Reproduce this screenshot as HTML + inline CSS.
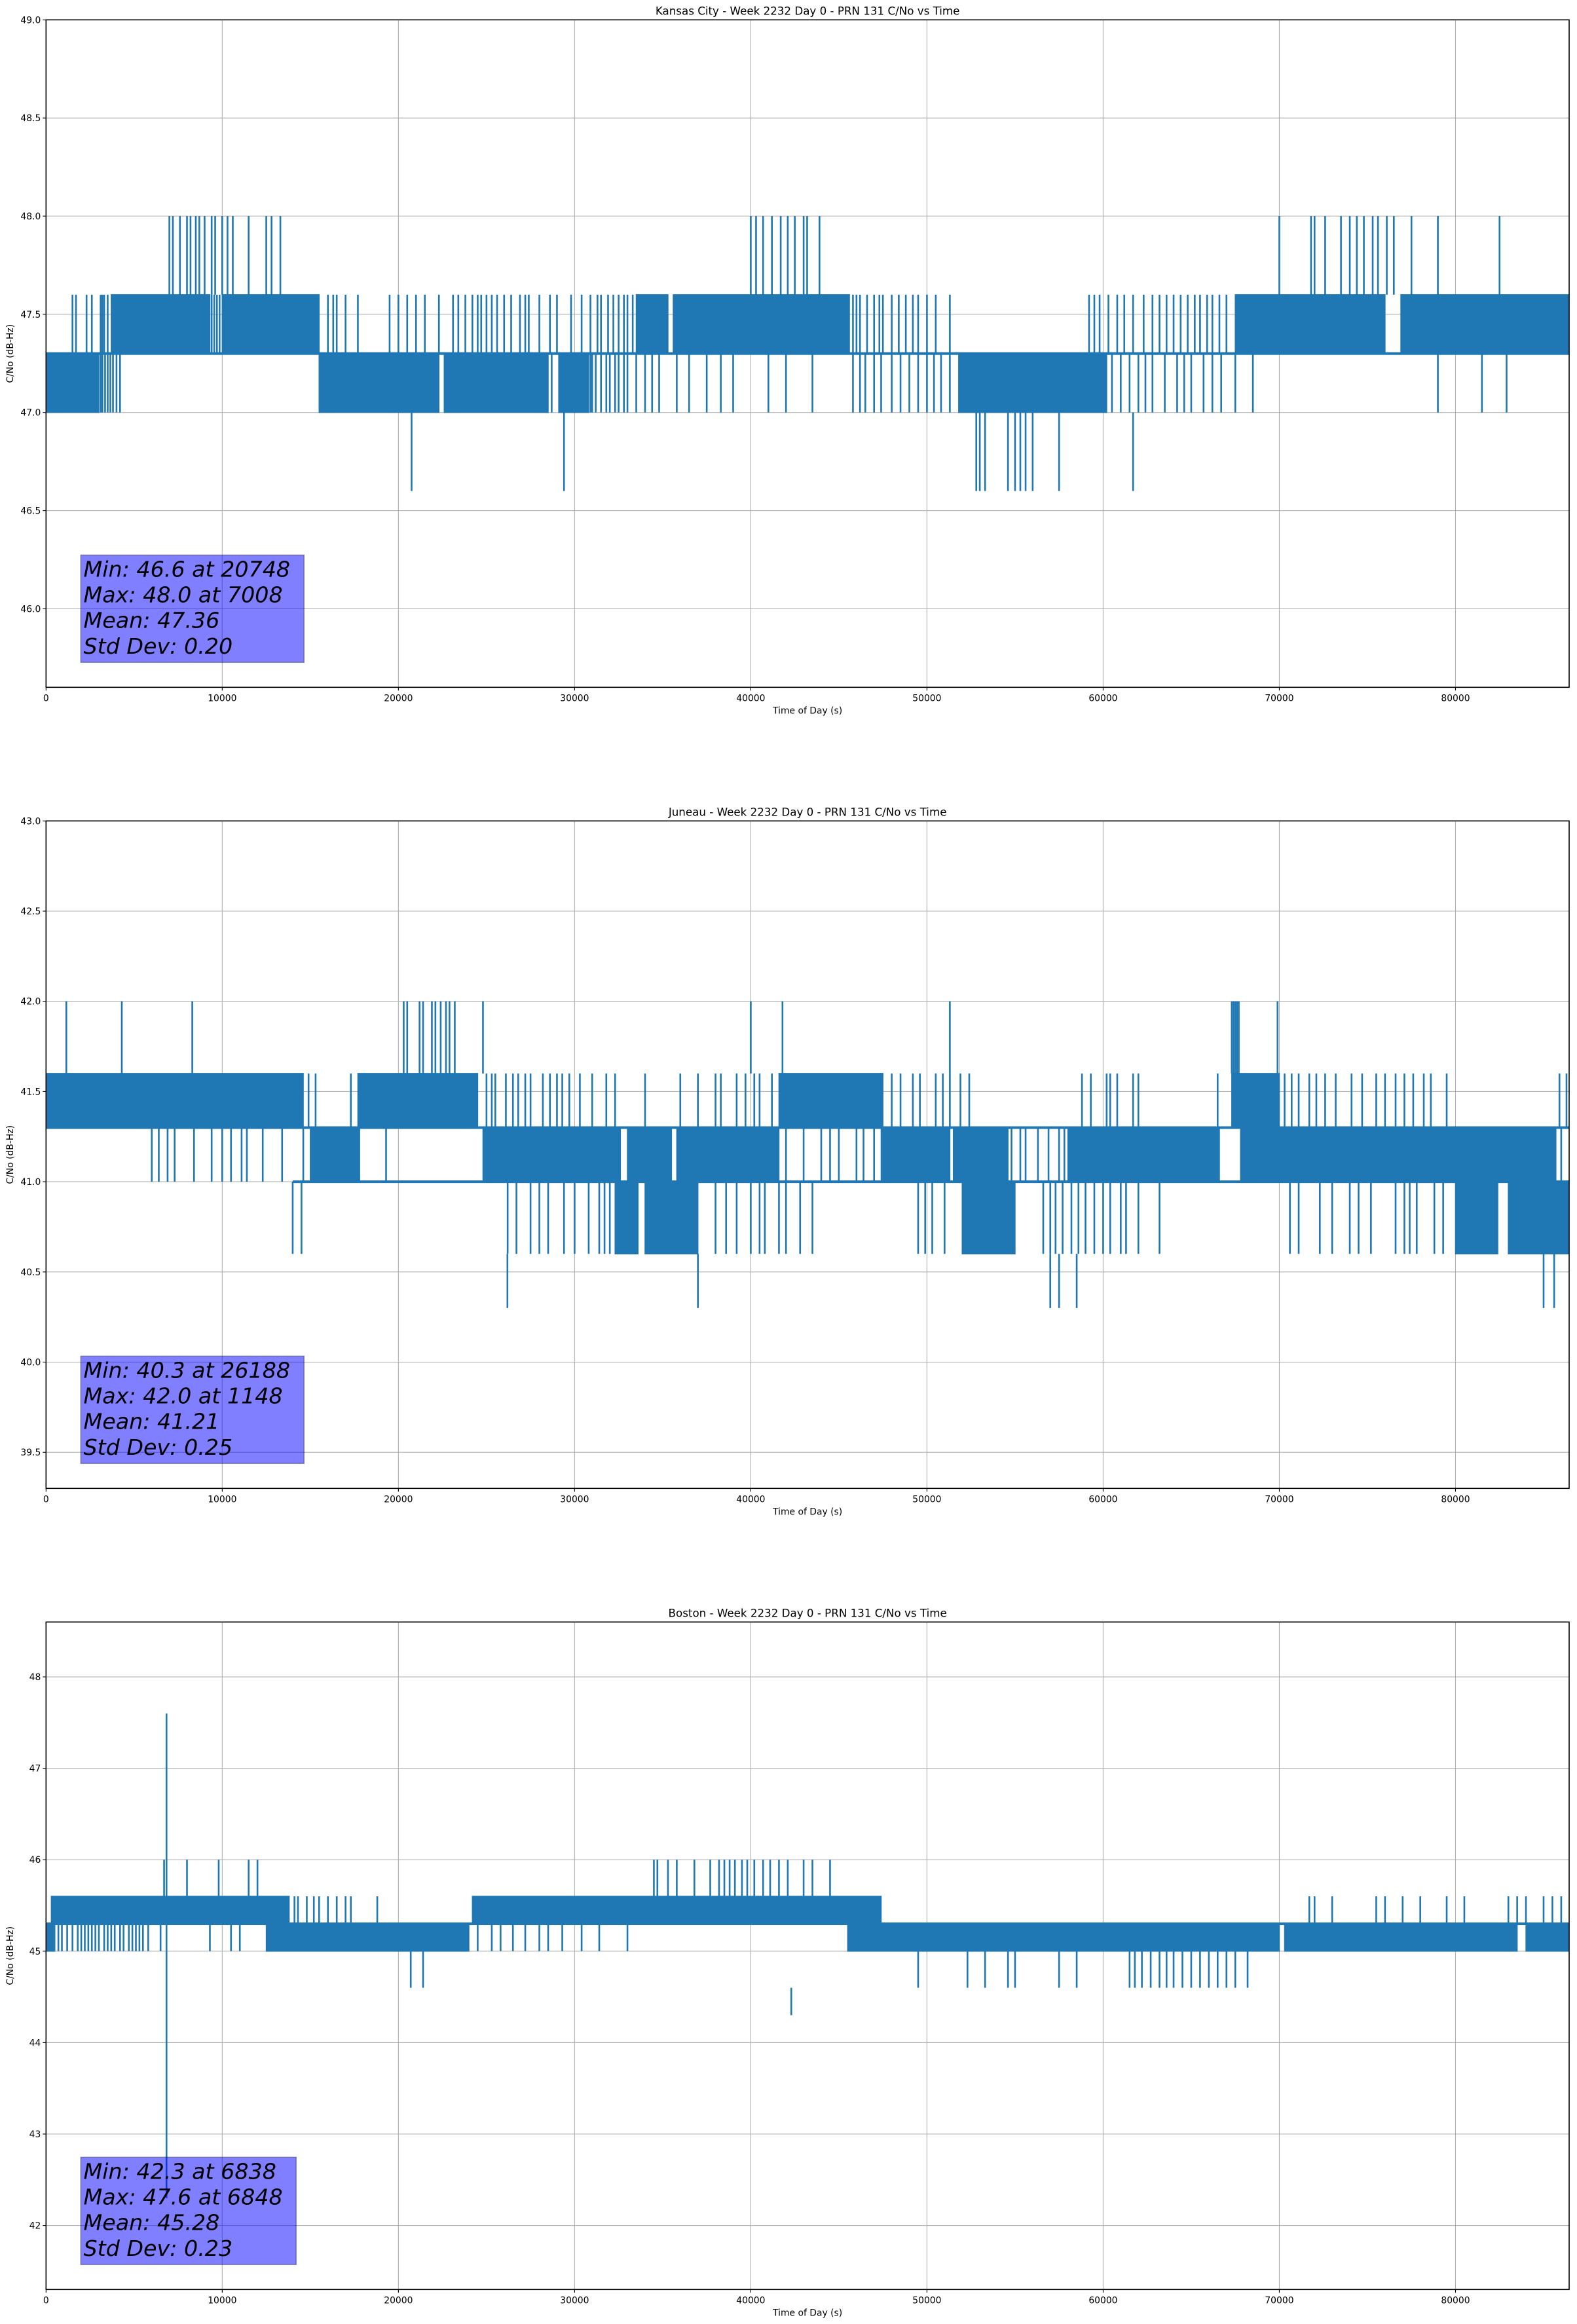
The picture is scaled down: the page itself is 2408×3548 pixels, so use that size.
<!DOCTYPE html>
<html><head><meta charset="utf-8"><title>PRN 131 C/No vs Time</title>
<style>
html,body{margin:0;padding:0;background:#fff;}
svg{display:block;font-family:"DejaVu Sans","Liberation Sans",sans-serif;}
</style></head>
<body>
<svg id="fig" width="2408" height="3548" viewBox="0 0 2408 3548" xmlns="http://www.w3.org/2000/svg">
<rect x="0" y="0" width="2408" height="3548" fill="#fff"/>
</svg>
<script>
// ---------- Shared axis data ----------
const xTicks = [0,10000,20000,30000,40000,50000,60000,70000,80000];
const xMax = 86450;

// ---------- Chart 1: Kansas City ----------
const kcTitle = "Kansas City - Week 2232 Day 0 - PRN 131 C/No vs Time";
const kcYRange = [45.6, 49.0];
const kcYTicks = [46.0,46.5,47.0,47.5,48.0,48.5,49.0];
const kcBandStart = [0,3700,10000,15500,22600,29100,33500,35600,51800,67500,76900];
const kcBandEnd   = [3000,9300,15500,22300,28500,30800,35300,45600,60200,76000,86450];
const kcBandLo    = [47.0,47.3,47.3,47.0,47.0,47.0,47.3,47.3,47.0,47.3,47.3];
const kcBandHi    = [47.3,47.6,47.6,47.3,47.3,47.3,47.6,47.6,47.3,47.6,47.6];
const kcLinkLevel = [47.3];
const kcLinkStart = [0];
const kcLinkEnd = [86450];
const kcSpikeHighX = [7000,7200,7600,8000,8200,8500,8700,9000,9400,9600,10000,10300,10600,11500,12500,12800,13300,40000,40300,40700,41200,41700,42100,42500,43000,43200,43900,70000,71800,72000,72600,73500,74000,74400,74800,75300,75600,76100,76500,77500,79000,82500];
const kcSpikeHighLo = 47.6, kcSpikeHighHi = 48.0;
const kcUpperLinesX = [1500,1700,2300,2600,3100,3200,3300,3500,9400,9550,9700,9850,16000,16300,16500,17000,17700,19500,20000,20500,21000,21500,22300,23100,23400,23800,24200,24500,24700,25000,25300,25600,26000,26400,26900,27200,27400,28000,28600,29000,29800,30400,30900,31300,31500,31900,32200,32500,32800,33000,33300,45800,46000,46200,46600,47000,47300,47500,48000,48400,48800,49200,49500,50000,50500,51300,59200,59500,59800,60300,60800,61200,61700,62300,62800,63200,63600,64000,64400,64800,65200,65500,65900,66200,66600,67000];
const kcUpperLo = 47.3, kcUpperHi = 47.6;
const kcLowerLinesX = [3100,3200,3350,3500,3650,3800,4000,4200,28700,29500,30900,31000,31200,31500,31800,32000,32300,32500,32800,33000,33500,34000,34400,34800,35800,36500,37500,38300,39000,41000,42000,43500,45800,46200,46500,47000,47400,48000,48500,49000,49500,50000,50400,50800,51300,60500,61000,61500,62000,62400,62800,63500,64200,64600,65000,65700,66200,66700,67500,68500,79000,81500,82900];
const kcLowerLo = 47.0, kcLowerHi = 47.3;
const kcDipX = [20748,29400,52800,53000,53300,54600,55000,55300,55600,56000,57500,61700];
const kcDipLo = 46.6, kcDipHi = 47.0;
const kcStats = ["Min: 46.6 at 20748","Max: 48.0 at 7008","Mean: 47.36","Std Dev: 0.20"];

// ---------- Chart 2: Juneau ----------
const juTitle = "Juneau - Week 2232 Day 0 - PRN 131 C/No vs Time";
const juYRange = [39.3, 43.0];
const juYTicks = [39.5,40.0,40.5,41.0,41.5,42.0,42.5,43.0];
const juBandStart = [0,17700,41600,67300,15000,24800,33000,35800,47400,51500,58000,67800,32300,34000,52000,80000,83000];
const juBandEnd   = [14600,24500,47500,70000,17800,32600,35500,41600,51300,54600,66600,85700,33600,37000,55000,82400,86450];
const juBandLo    = [41.3,41.3,41.3,41.3,41.0,41.0,41.0,41.0,41.0,41.0,41.0,41.0,40.6,40.6,40.6,40.6,40.6];
const juBandHi    = [41.6,41.6,41.6,41.6,41.3,41.3,41.3,41.3,41.3,41.3,41.3,41.3,41.0,41.0,41.0,41.0,41.0];
const juLinkLevel = [41.3,41.0];
const juLinkStart = [0,14000];
const juLinkEnd = [86450,86450];
const juSpikeHighX = [1150,4300,8300,20300,20500,21200,21400,21900,22100,22400,22700,22900,23200,24800,40000,41800,51300,67300,67400,67500,67600,67700,69900];
const juSpikeHighLo = 41.6, juSpikeHighHi = 42.0;
const juUpperLinesX = [14900,15300,17300,25000,25300,25500,26100,26500,26800,27200,27500,28200,28600,29000,29300,29700,30300,31000,31800,32300,34000,36000,37000,38000,38300,39200,39700,40200,40500,41200,48000,48500,49200,49600,50500,50900,51300,51900,52400,58800,59300,60200,60400,60800,61700,62000,66500,68500,69200,69700,70300,70700,71100,71700,72100,72600,73200,74100,74700,75500,76000,76600,77100,77600,78200,78600,79500,85900,86300];
const juUpperLo = 41.3, juUpperHi = 41.6;
const juLowerLinesX = [6000,6400,6900,7300,8400,9400,10000,10500,11100,11400,12300,13400,14600,19300,32500,34800,42000,43000,44000,44500,45000,46000,46400,47000,54800,55300,55600,56300,56900,57500,57800,81000,82000,82500,83300,83800,84500,86000];
const juLowerLo = 41.0, juLowerHi = 41.3;
const juDipX = [14000,14500,26200,26700,27500,28000,28500,29400,30000,30800,31400,31700,32000,38000,38600,39200,40000,40500,40800,41600,42000,42800,43500,49500,49900,50300,51000,56600,57000,57300,57700,58200,58600,59000,59500,60000,60400,61000,61300,62000,63200,70600,71100,72300,73000,74000,74500,75200,76600,77100,77400,77800,78800,79300];
const juDipLo = 40.6, juDipHi = 41.0;
const juDeepX = [26188,37000,57000,57500,58500,85000,85600];
const juDeepLo = 40.3, juDeepHi = 40.6;
const juStats = ["Min: 40.3 at 26188","Max: 42.0 at 1148","Mean: 41.21","Std Dev: 0.25"];

// ---------- Chart 3: Boston ----------
const boTitle = "Boston - Week 2232 Day 0 - PRN 131 C/No vs Time";
const boYRange = [41.3, 48.6];
const boYTicks = [42,43,44,45,46,47,48];
const boBandStart = [300,24200,0,12500,45500,70300,84000];
const boBandEnd   = [13800,47400,500,24000,70000,83500,86450];
const boBandLo    = [45.3,45.3,45.0,45.0,45.0,45.0,45.0];
const boBandHi    = [45.6,45.6,45.3,45.3,45.3,45.3,45.3];
const boLinkLevel = [45.3];
const boLinkStart = [0];
const boLinkEnd = [86450];
const boSpikeHighX = [6700,8000,9800,11500,12000,34500,34700,35300,35800,36800,37700,38200,38500,38800,39100,39500,39800,40200,40700,41100,41600,42100,43000,43500,44500];
const boSpikeHighLo = 45.6, boSpikeHighHi = 46.0;
const boUpperLinesX = [14100,14300,14800,15200,15500,16000,16500,17000,17300,18800,71700,72000,73000,75500,76000,77000,78000,79500,80500,83000,83500,84000,85000,85500,86000];
const boUpperLo = 45.3, boUpperHi = 45.6;
const boLowerLinesX = [700,900,1200,1500,1800,2000,2200,2400,2600,2800,3000,3300,3500,3700,3900,4200,4400,4700,4900,5100,5300,5500,5800,6500,9300,10500,11000,24500,25300,25800,26500,27200,28000,28500,29300,30400,31400,33000];
const boLowerLo = 45.0, boLowerHi = 45.3;
const boDipX = [20700,21400,49500,52300,53300,54600,55000,57500,58500,61500,61800,62200,62700,63200,63600,64000,64500,65000,65500,66000,66500,67000,67500,68200];
const boDipLo = 44.6, boDipHi = 45.0;
const boDeepX = [42300];
const boDeepLo = 44.3, boDeepHi = 44.6;
const boBigSpikeX = [6838];
const boBigSpikeLo = 42.3, boBigSpikeHi = 47.6;
const boStats = ["Min: 42.3 at 6838","Max: 47.6 at 6848","Mean: 45.28","Std Dev: 0.23"];

// ---------- Rendering ----------
const NS = "http://www.w3.org/2000/svg";
const svg = document.getElementById('fig');
const L = 70.3, R = 2396, H = 1019;
const BLUE = "#1f77b4";
function mk(tag, attrs, parent){
  const e = document.createElementNS(NS, tag);
  for (const k in attrs) e.setAttribute(k, attrs[k]);
  (parent||svg).appendChild(e);
  return e;
}

function drawChart(key, top, title, yRange, yTicks, yFmt, layers, stats){
  const g = mk('g', {});
  
  
  const bottom = top + H;
  const xs = v => L + (v / xMax) * (R - L);
  const ys = v => bottom - (v - yRange[0]) / (yRange[1] - yRange[0]) * H;

  const grid = mk('g', {stroke:'#b0b0b0','stroke-width':1.1}, g);
  
  
  xTicks.forEach(t => mk('line', {x1:xs(t), x2:xs(t), y1:top, y2:bottom}, grid));
  yTicks.forEach(t => mk('line', {x1:L, x2:R, y1:ys(t), y2:ys(t)}, grid));

  const data = mk('g', {}, g);
  
  
  const clipId = key + '-clip';
  const cp = mk('clipPath', {id: clipId}, g);
  mk('rect', {x:L, y:top, width:R-L, height:H}, cp);
  data.setAttribute('clip-path', 'url(#' + clipId + ')');
  layers.bands.start.forEach((s, i) => {
    const e = layers.bands.end[i];
    const r = mk('rect', {x:xs(s), y:ys(layers.bands.hi[i]), width:Math.max(1, xs(e)-xs(s)), height:ys(layers.bands.lo[i])-ys(layers.bands.hi[i]), fill:BLUE, stroke:BLUE, 'stroke-width':1.5}, data);
    
    
  });
  layers.links.level.forEach((lv, i) => {
    const ln = mk('line', {x1:xs(layers.links.start[i]), x2:xs(layers.links.end[i]), y1:ys(lv), y2:ys(lv), stroke:BLUE, 'stroke-width':4}, data);
    
    
  });
  layers.lines.forEach(set => {
    set.x.forEach(v => {
      const ln = mk('line', {x1:xs(v), x2:xs(v), y1:ys(set.lo), y2:ys(set.hi), stroke:BLUE, 'stroke-width':2.6}, data);
      
      
    });
  });

  const frame = mk('rect', {x:L, y:top, width:R-L, height:H, fill:'none', stroke:'#000', 'stroke-width':1.6}, g);
  
  

  const tk = mk('g', {stroke:'#000','stroke-width':1.1}, g);
  const tl = mk('g', {'font-size':'13.9px', fill:'#000'}, g);
  xTicks.forEach(t => {
    mk('line', {x1:xs(t), x2:xs(t), y1:bottom, y2:bottom+5}, tk);
    const tx = mk('text', {x:xs(t), y:bottom+21, 'text-anchor':'middle'}, tl);
    tx.textContent = String(t);
    
    
  });
  yTicks.forEach(t => {
    mk('line', {x1:L-5, x2:L, y1:ys(t), y2:ys(t)}, tk);
    const ty = mk('text', {x:L-8, y:ys(t)+5, 'text-anchor':'end'}, tl);
    ty.textContent = yFmt(t);
    
    
  });

  const tt = mk('text', {x:(L+R)/2, y:top-8, 'text-anchor':'middle', 'font-size':'16.7px', fill:'#000'}, g);
  tt.textContent = title;
  
  
  const xl = mk('text', {x:(L+R)/2, y:bottom+40, 'text-anchor':'middle', 'font-size':'13.9px', fill:'#000'}, g);
  xl.textContent = "Time of Day (s)";
  
  
  const cy = top + H/2;
  const yl = mk('text', {x:20, y:cy, 'text-anchor':'middle', 'font-size':'13.9px', fill:'#000', transform:'rotate(-90 20 '+cy+')'}, g);
  yl.textContent = "C/No (dB-Hz)";
  
  

  const sb = mk('g', {}, g);
  
  
  const bw = stats[0].length >= 18 ? 341 : 329;
  mk('rect', {x:123.3, y:top+817, width:bw, height:164, fill:'rgba(0,0,255,0.5)', stroke:'rgba(0,0,0,0.35)', 'stroke-width':1.5}, sb);
  stats.forEach((s, i) => {
    const st = mk('text', {x:127.5, y:top+850+i*39.2, 'font-size':'33.3px', 'font-style':'italic', fill:'#000'}, sb);
    st.textContent = s;
    
    
  });
}

const f1 = v => v.toFixed(1);
const f0 = v => v.toFixed(0);

drawChart('kansas-city', 30.3, kcTitle, kcYRange, kcYTicks, f1, {
  bands:{start:kcBandStart, end:kcBandEnd, lo:kcBandLo, hi:kcBandHi},
  links:{level:kcLinkLevel, start:kcLinkStart, end:kcLinkEnd},
  lines:[
    {x:kcSpikeHighX, lo:kcSpikeHighLo, hi:kcSpikeHighHi},
    {x:kcUpperLinesX, lo:kcUpperLo, hi:kcUpperHi},
    {x:kcLowerLinesX, lo:kcLowerLo, hi:kcLowerHi},
    {x:kcDipX, lo:kcDipLo, hi:kcDipHi}
  ]}, kcStats);

drawChart('juneau', 1253.3, juTitle, juYRange, juYTicks, f1, {
  bands:{start:juBandStart, end:juBandEnd, lo:juBandLo, hi:juBandHi},
  links:{level:juLinkLevel, start:juLinkStart, end:juLinkEnd},
  lines:[
    {x:juSpikeHighX, lo:juSpikeHighLo, hi:juSpikeHighHi},
    {x:juUpperLinesX, lo:juUpperLo, hi:juUpperHi},
    {x:juLowerLinesX, lo:juLowerLo, hi:juLowerHi},
    {x:juDipX, lo:juDipLo, hi:juDipHi},
    {x:juDeepX, lo:juDeepLo, hi:juDeepHi}
  ]}, juStats);

drawChart('boston', 2476.3, boTitle, boYRange, boYTicks, f0, {
  bands:{start:boBandStart, end:boBandEnd, lo:boBandLo, hi:boBandHi},
  links:{level:boLinkLevel, start:boLinkStart, end:boLinkEnd},
  lines:[
    {x:boSpikeHighX, lo:boSpikeHighLo, hi:boSpikeHighHi},
    {x:boUpperLinesX, lo:boUpperLo, hi:boUpperHi},
    {x:boLowerLinesX, lo:boLowerLo, hi:boLowerHi},
    {x:boDipX, lo:boDipLo, hi:boDipHi},
    {x:boDeepX, lo:boDeepLo, hi:boDeepHi},
    {x:boBigSpikeX, lo:boBigSpikeLo, hi:boBigSpikeHi}
  ]}, boStats);
</script>
</body></html>
